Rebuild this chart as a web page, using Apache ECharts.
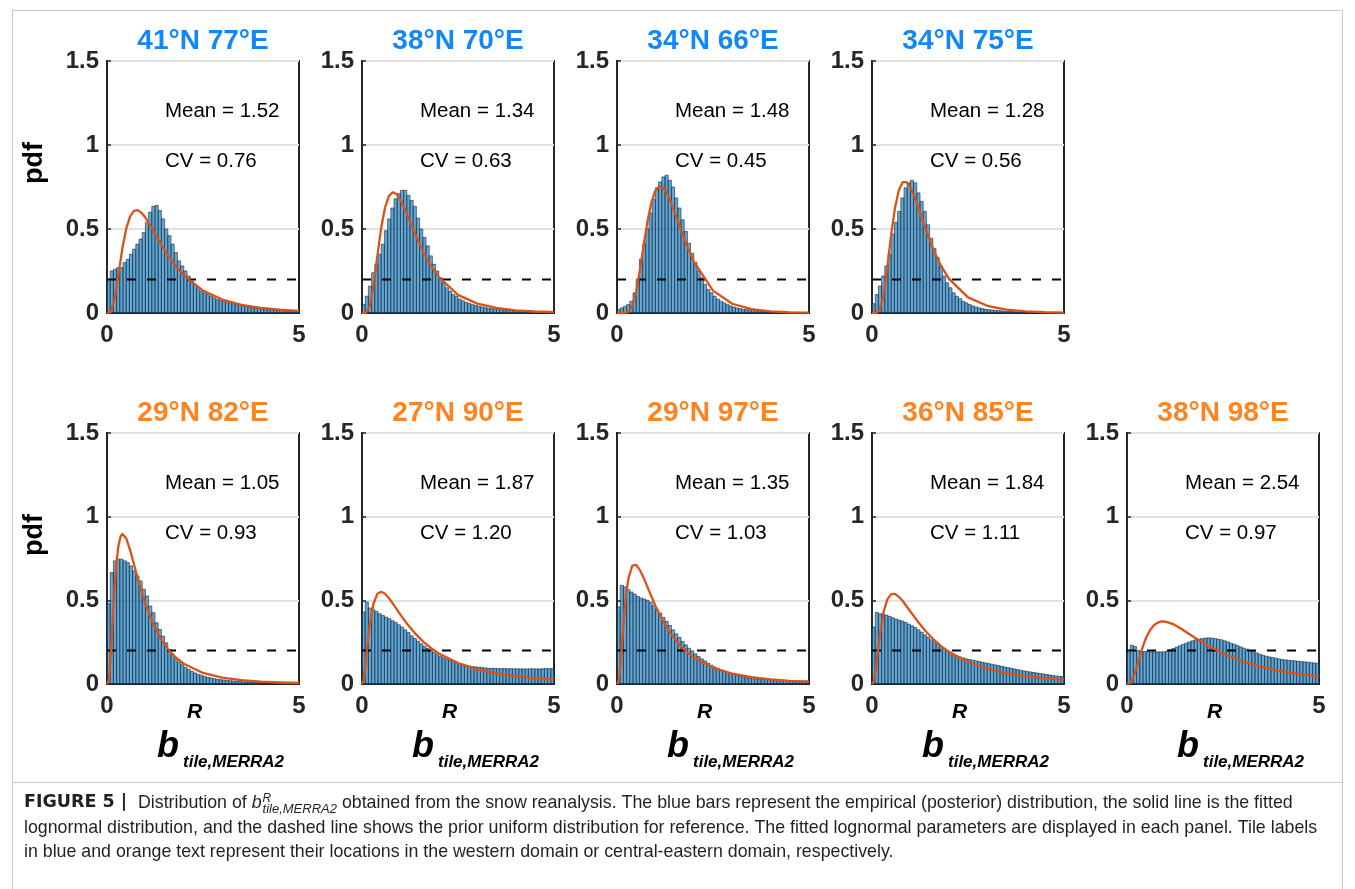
<!DOCTYPE html>
<html><head><meta charset="utf-8">
<script src="https://cdn.jsdelivr.net/npm/echarts@6/dist/echarts.min.js"></script>
<style>html,body{margin:0;padding:0;background:#fff}#c{width:1355px;height:889px}</style>
</head><body><div id="c"></div>
<script>
// ---------------- data ----------------
const panelTitles = ['41°N 77°E','38°N 70°E','34°N 66°E','34°N 75°E','29°N 82°E','27°N 90°E','29°N 97°E','36°N 85°E','38°N 98°E'];
const panelDomain = ['west','west','west','west','east','east','east','east','east'];
const panelMeans = ['1.52','1.34','1.48','1.28','1.05','1.87','1.35','1.84','2.54'];
const panelCVs = ['0.76','0.63','0.45','0.56','0.93','1.20','1.03','1.11','0.97'];
const xTickStep = 5, xMax = 5;
const yTickStep = 0.5, yMax = 1.5;
const priorLevel = 0.2;
const binCount = 60;

const hist1 = [0.19,0.25,0.26,0.27,0.27,0.30,0.32,0.35,0.38,0.41,0.44,0.48,0.54,0.60,0.635,0.64,0.61,0.56,0.50,0.46,0.41,0.36,0.31,0.28,0.25,0.22,0.19,0.17,0.15,0.13,0.12,0.11,0.10,0.09,0.08,0.075,0.07,0.063,0.059,0.055,0.05,0.046,0.042,0.038,0.035,0.032,0.029,0.027,0.025,0.023,0.021,0.019,0.018,0.016,0.015,0.014,0.013,0.012,0.011,0.01];
const hist2 = [0.05,0.10,0.16,0.24,0.29,0.35,0.41,0.49,0.56,0.625,0.68,0.71,0.73,0.73,0.70,0.67,0.635,0.565,0.50,0.45,0.40,0.34,0.29,0.25,0.21,0.18,0.15,0.13,0.11,0.10,0.083,0.073,0.063,0.057,0.05,0.045,0.04,0.036,0.032,0.028,0.026,0.024,0.022,0.02,0.018,0.017,0.015,0.014,0.013,0.012,0.011,0.01,0.009,0.008,0.008,0.007,0.007,0.006,0.006,0.005];
const hist3 = [0.02,0.03,0.04,0.05,0.07,0.12,0.20,0.32,0.41,0.50,0.595,0.675,0.745,0.78,0.81,0.82,0.79,0.75,0.685,0.625,0.555,0.485,0.415,0.355,0.30,0.25,0.21,0.17,0.14,0.12,0.10,0.083,0.07,0.06,0.05,0.042,0.036,0.03,0.026,0.022,0.02,0.018,0.016,0.014,0.013,0.011,0.01,0.009,0.008,0.007,0.007,0.006,0.005,0.005,0.004,0.004,0.004,0.003,0.003,0.003];
const hist4 = [0.055,0.11,0.16,0.22,0.28,0.35,0.47,0.54,0.605,0.685,0.745,0.775,0.79,0.775,0.715,0.665,0.605,0.525,0.445,0.385,0.33,0.28,0.22,0.18,0.15,0.12,0.10,0.085,0.07,0.06,0.05,0.042,0.036,0.03,0.026,0.022,0.02,0.018,0.016,0.014,0.013,0.011,0.01,0.009,0.008,0.007,0.007,0.006,0.005,0.005,0.004,0.004,0.004,0.003,0.003,0.003,0.003,0.002,0.002,0.002];
const hist5 = [0.48,0.666,0.736,0.746,0.746,0.736,0.726,0.706,0.676,0.646,0.616,0.566,0.526,0.466,0.426,0.366,0.326,0.286,0.246,0.206,0.176,0.15,0.13,0.116,0.10,0.088,0.076,0.066,0.058,0.052,0.046,0.04,0.036,0.032,0.028,0.026,0.024,0.022,0.02,0.018,0.017,0.015,0.014,0.013,0.012,0.011,0.01,0.009,0.009,0.008,0.007,0.007,0.006,0.006,0.006,0.005,0.005,0.005,0.004,0.004];
const hist6 = [0.43,0.49,0.454,0.444,0.434,0.42,0.41,0.40,0.39,0.378,0.368,0.354,0.34,0.324,0.308,0.288,0.272,0.256,0.24,0.226,0.212,0.20,0.188,0.176,0.166,0.156,0.148,0.14,0.134,0.128,0.122,0.118,0.112,0.108,0.104,0.102,0.10,0.098,0.096,0.094,0.093,0.093,0.092,0.092,0.092,0.091,0.091,0.091,0.091,0.09,0.09,0.09,0.091,0.091,0.09,0.09,0.091,0.092,0.092,0.092];
const hist7 = [0.46,0.59,0.58,0.564,0.55,0.538,0.524,0.514,0.508,0.50,0.488,0.468,0.444,0.424,0.398,0.374,0.35,0.324,0.30,0.278,0.254,0.234,0.214,0.198,0.18,0.164,0.15,0.138,0.124,0.112,0.102,0.092,0.084,0.076,0.07,0.064,0.058,0.052,0.048,0.044,0.04,0.036,0.033,0.031,0.029,0.027,0.026,0.025,0.024,0.023,0.022,0.021,0.021,0.02,0.02,0.019,0.019,0.018,0.018,0.018];
const hist8 = [0.34,0.428,0.42,0.416,0.412,0.404,0.396,0.388,0.382,0.376,0.368,0.358,0.348,0.338,0.324,0.31,0.294,0.28,0.264,0.252,0.238,0.224,0.212,0.20,0.19,0.178,0.168,0.162,0.156,0.15,0.146,0.142,0.138,0.134,0.13,0.126,0.122,0.118,0.114,0.11,0.106,0.102,0.098,0.094,0.09,0.086,0.082,0.078,0.075,0.072,0.069,0.066,0.063,0.06,0.057,0.054,0.051,0.048,0.046,0.044];
const hist9 = [0.188,0.232,0.224,0.20,0.194,0.194,0.194,0.192,0.192,0.192,0.192,0.192,0.196,0.204,0.212,0.22,0.228,0.236,0.244,0.252,0.258,0.264,0.268,0.272,0.274,0.276,0.274,0.272,0.268,0.264,0.258,0.252,0.244,0.238,0.23,0.222,0.214,0.208,0.20,0.194,0.186,0.178,0.172,0.166,0.162,0.158,0.154,0.15,0.146,0.144,0.142,0.14,0.138,0.136,0.134,0.132,0.13,0.128,0.126,0.124];

const fit1 = [[0,0],[0.1,0.0065],[0.2,0.085],[0.3,0.233],[0.4,0.385],[0.5,0.502],[0.6,0.574],[0.7,0.608],[0.8,0.612],[0.9,0.596],[1.0,0.568],[1.2,0.492],[1.4,0.412],[1.6,0.339],[1.8,0.276],[2.0,0.224],[2.5,0.133],[3.0,0.080],[3.5,0.049],[4.0,0.031],[4.5,0.020],[5.0,0.013]];
const fit2 = [[0,0],[0.1,0.001],[0.2,0.038],[0.3,0.164],[0.4,0.340],[0.5,0.507],[0.6,0.628],[0.7,0.696],[0.8,0.719],[0.9,0.708],[1.0,0.674],[1.2,0.572],[1.4,0.461],[1.6,0.361],[1.8,0.279],[2.0,0.213],[2.5,0.108],[3.0,0.056],[3.5,0.030],[4.0,0.016],[4.5,0.009],[5.0,0.005]];
const fit3 = [[0,0],[0.2,0.0002],[0.3,0.0067],[0.4,0.042],[0.5,0.128],[0.6,0.261],[0.7,0.413],[0.8,0.553],[0.9,0.661],[1.0,0.728],[1.1,0.754],[1.2,0.746],[1.3,0.712],[1.4,0.661],[1.6,0.537],[1.8,0.412],[2.0,0.305],[2.5,0.133],[3.0,0.055],[3.5,0.023],[4.0,0.0095],[4.5,0.004],[5.0,0.0018]];
const fit4 = [[0,0],[0.1,0.0002],[0.2,0.017],[0.3,0.107],[0.4,0.276],[0.5,0.468],[0.6,0.627],[0.7,0.732],[0.8,0.779],[0.9,0.779],[1.0,0.747],[1.1,0.694],[1.2,0.631],[1.4,0.497],[1.6,0.377],[1.8,0.280],[2.0,0.205],[2.5,0.093],[3.0,0.043],[3.5,0.020],[4.0,0.0097],[4.5,0.0048],[5.0,0.0025]];
const fit5 = [[0,0],[0.05,0.025],[0.1,0.179],[0.15,0.395],[0.2,0.590],[0.25,0.734],[0.3,0.828],[0.35,0.879],[0.4,0.897],[0.45,0.892],[0.5,0.871],[0.6,0.802],[0.7,0.717],[0.8,0.631],[1.0,0.478],[1.2,0.359],[1.4,0.271],[1.6,0.205],[1.8,0.157],[2.0,0.121],[2.5,0.066],[3.0,0.038],[3.5,0.023],[4.0,0.014],[4.5,0.009],[5.0,0.006]];
const fit6 = [[0,0],[0.05,0.030],[0.1,0.134],[0.15,0.251],[0.2,0.351],[0.3,0.481],[0.4,0.539],[0.5,0.551],[0.6,0.539],[0.7,0.514],[0.8,0.482],[1.0,0.415],[1.2,0.352],[1.4,0.298],[1.6,0.252],[1.8,0.214],[2.0,0.182],[2.5,0.125],[3.0,0.088],[3.5,0.063],[4.0,0.047],[4.5,0.035],[5.0,0.027]];
const fit7 = [[0,0],[0.05,0.024],[0.1,0.146],[0.15,0.305],[0.2,0.448],[0.25,0.558],[0.3,0.634],[0.4,0.708],[0.45,0.716],[0.5,0.712],[0.6,0.680],[0.7,0.631],[0.8,0.576],[1.0,0.468],[1.2,0.375],[1.4,0.300],[1.6,0.241],[1.8,0.195],[2.0,0.158],[2.5,0.097],[3.0,0.062],[3.5,0.041],[4.0,0.028],[4.5,0.019],[5.0,0.014]];
const fit8 = [[0,0],[0.05,0.015],[0.1,0.088],[0.15,0.188],[0.2,0.285],[0.3,0.429],[0.4,0.506],[0.5,0.537],[0.6,0.538],[0.7,0.521],[0.8,0.496],[1.0,0.433],[1.2,0.371],[1.4,0.315],[1.6,0.267],[1.8,0.226],[2.0,0.192],[2.5,0.130],[3.0,0.091],[3.5,0.065],[4.0,0.047],[4.5,0.035],[5.0,0.026]];
const fit9 = [[0,0],[0.1,0.0085],[0.2,0.062],[0.3,0.140],[0.4,0.216],[0.5,0.278],[0.6,0.322],[0.7,0.351],[0.8,0.367],[0.9,0.374],[1.0,0.373],[1.2,0.358],[1.4,0.332],[1.6,0.302],[1.8,0.272],[2.0,0.243],[2.5,0.182],[3.0,0.136],[3.5,0.102],[4.0,0.077],[4.5,0.059],[5.0,0.046]];

const captionLine1Rest = ' obtained from the snow reanalysis. The blue bars represent the empirical (posterior) distribution, the solid line is the fitted';
const captionLine2 = 'lognormal distribution, and the dashed line shows the prior uniform distribution for reference. The fitted lognormal parameters are displayed in each panel. Tile labels';
const captionLine3 = 'in blue and orange text represent their locations in the western domain or central-eastern domain, respectively.';

// ---------------- build ----------------
const FONT = '"Liberation Sans", Arial, Helvetica, sans-serif';
const hists = [hist1,hist2,hist3,hist4,hist5,hist6,hist7,hist8,hist9];
const fits = [fit1,fit2,fit3,fit4,fit5,fit6,fit7,fit8,fit9];
const domainColor = {west:'#1088f7', east:'#fd8420'};
const ink = '#262626';

const measureCtx = document.createElement('canvas').getContext('2d');
function fontStr(size, weight, style, family){ return (style||'normal')+' '+(weight||'normal')+' '+size+'px '+(family||FONT); }
function textWidth(str, font){ measureCtx.font = font; return measureCtx.measureText(str).width; }

const grids=[], xAxes=[], yAxes=[], series=[], graphics=[];
function addText(x, baseline, text, size, weight, style, fill, family){
  const f = fontStr(size,weight,style,family);
  graphics.push({type:'text', x:x, y:baseline - 0.35*size, silent:true, z:50,
    style:{text:text, font:f, fill:fill||ink,
      textAlign:'left', align:'left', textVerticalAlign:'middle', verticalAlign:'middle'}});
  return textWidth(text, f);
}

const bw = xMax/binCount;
hists.forEach((h,i)=>{
  const row = i<4?0:1, col = i<4?i:i-4;
  const left = 107 + 255*col, top = row===0?61:433, width=192, height=row===0?252:251;
  grids.push({left, top, width, height, show:true, borderColor:ink, borderWidth:2, containLabel:false});
  xAxes.push({type:'value', gridIndex:i, min:0, max:xMax, interval:xTickStep,
    axisLine:{show:true, onZero:false, lineStyle:{color:ink, width:2}}, axisTick:{show:false}, splitLine:{show:false},
    axisLabel:{margin:10, fontSize:24, fontWeight:'bold', fontFamily:FONT, color:ink}});
  yAxes.push({type:'value', gridIndex:i, min:0, max:yMax, interval:yTickStep,
    axisLine:{show:true, lineStyle:{color:ink, width:2}},
    axisTick:{show:true, inside:true, length:4, lineStyle:{color:ink, width:1.5}},
    splitLine:{show:true, lineStyle:{color:'#e2e2e2', width:2}},
    axisLabel:{margin:8, fontSize:24, fontWeight:'bold', fontFamily:FONT, color:ink}});
  series.push({type:'custom', xAxisIndex:i, yAxisIndex:i, silent:true, z:2,
    data: h.map((v,k)=>[k*bw,(k+1)*bw,v]), encode:{x:[0,1], y:2},
    renderItem:(params, api)=>{
      const p0 = api.coord([api.value(0), api.value(2)]);
      const p1 = api.coord([api.value(1), 0]);
      return {type:'rect', shape:{x:p0[0], y:p0[1], width:p1[0]-p0[0], height:p1[1]-p0[1]},
        style:{fill:'rgba(0,114,189,0.62)', stroke:'#1c2935', lineWidth:0.6}};
    }});
  series.push({type:'line', xAxisIndex:i, yAxisIndex:i, silent:true, z:3,
    data:[[0,priorLevel],[xMax,priorLevel]], symbol:'none',
    lineStyle:{color:'#000', width:2, type:[9,11]}});
  series.push({type:'line', xAxisIndex:i, yAxisIndex:i, silent:true, z:4,
    data:fits[i], smooth:false, symbol:'none',
    lineStyle:{color:'#D95319', width:2.3, join:'round'}});
  const labels = ['Mean = '+panelMeans[i], 'CV = '+panelCVs[i]];
  series.push({type:'custom', xAxisIndex:i, yAxisIndex:i, silent:true, z:5,
    data:[[1.51,1.2],[1.51,0.9]],
    renderItem:(params, api)=>{
      const p = api.coord([api.value(0), api.value(1)]);
      return {type:'text', x:p[0], y:p[1], style:{text:labels[params.dataIndex], font:fontStr(20.5), fill:'#000',
        textAlign:'left', align:'left', textVerticalAlign:'middle', verticalAlign:'middle'}};
    }});
  graphics.push({type:'text', x:left+width/2, y:top-20, silent:true,
    style:{text:panelTitles[i], font:fontStr(28,'bold'), fill:domainColor[panelDomain[i]],
      textAlign:'center', align:'center', textVerticalAlign:'middle', verticalAlign:'middle'}});
  if(col===0){
    graphics.push({type:'text', x:35, y:top+102, rotation:Math.PI/2, silent:true,
      style:{text:'pdf', font:fontStr(27,'bold'), fill:'#000',
        textAlign:'center', align:'center', textVerticalAlign:'middle', verticalAlign:'middle'}});
  }
  if(row===1){
    const bottom = top+height;
    addText(left+50, bottom+76, 'b', 36, 'bold', 'italic', '#000');
    addText(left+80, bottom+36, 'R', 21, 'bold', 'italic', '#000');
    addText(left+76, bottom+84, 'tile,MERRA2', 17, 'bold', 'italic', '#000');
  }
});

// frame
const frameStroke = '#c8c8c8';
graphics.push({type:'line', shape:{x1:12, y1:10.5, x2:1343, y2:10.5}, style:{stroke:frameStroke, lineWidth:1}, silent:true});
graphics.push({type:'line', shape:{x1:12.5, y1:10, x2:12.5, y2:889}, style:{stroke:frameStroke, lineWidth:1}, silent:true});
graphics.push({type:'line', shape:{x1:1342.5, y1:10, x2:1342.5, y2:889}, style:{stroke:frameStroke, lineWidth:1}, silent:true});
graphics.push({type:'line', shape:{x1:12, y1:782.5, x2:1343, y2:782.5}, style:{stroke:frameStroke, lineWidth:1}, silent:true});

// caption
const capInk = '#231f20';
const capSize = 17.8;
addText(24, 809, 'FIGURE 5 |', 17.5, 'bold', 'normal', capInk, '"DejaVu Sans", sans-serif');
let cx = 138;
cx += addText(cx, 809, 'Distribution of ', capSize, 'normal', 'normal', capInk);
cx += addText(cx, 809, 'b', capSize, 'normal', 'italic', capInk) + 1;
addText(cx, 803, 'R', 12, 'normal', 'italic', capInk);
cx += addText(cx, 814, 'tile,MERRA2', 13, 'normal', 'italic', capInk);
addText(cx, 809, captionLine1Rest, capSize, 'normal', 'normal', capInk);
addText(24, 834, captionLine2, capSize, 'normal', 'normal', capInk);
addText(24, 858, captionLine3, capSize, 'normal', 'normal', capInk);

const chart = echarts.init(document.getElementById('c'), null, {renderer:'canvas'});
chart.setOption({
  backgroundColor:'#fff', animation:false,
  grid:grids, xAxis:xAxes, yAxis:yAxes, series:series, graphic:graphics
});
</script></body></html>
